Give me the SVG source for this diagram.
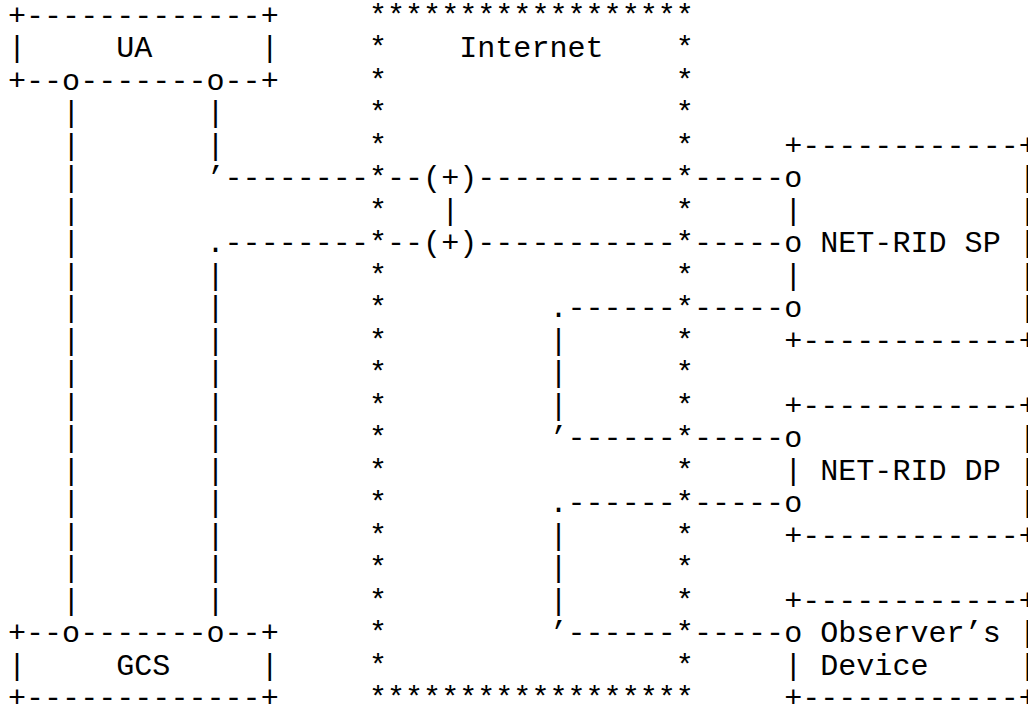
<svg xmlns="http://www.w3.org/2000/svg" width="1028" height="710" viewBox="0 0 1028 710" xml:space="preserve">
<style>
.t{font-family:"Liberation Mono","DejaVu Sans Mono",monospace;font-size:30.08px;fill:#000;white-space:pre}
</style>
<rect x="0" y="0" width="1028" height="710" fill="#fff"/>
<g id="ua">
<text class="t" x="7.98" y="24.8">+-------------+</text>
<text class="t" x="7.98" y="57.3">|     UA      |</text>
<text class="t" x="7.98" y="89.8">+--o-------o--+</text>
</g>
<g id="gcs">
<text class="t" x="7.98" y="642.3">+--o-------o--+</text>
<text class="t" x="7.98" y="674.8">|     GCS     |</text>
<text class="t" x="7.98" y="707.3">+-------------+</text>
</g>
<g id="internet">
<text class="t" x="368.98" y="24.8">******************</text>
<text class="t" x="368.98" y="57.3">*    Internet    *</text>
<text class="t" x="368.98 368.98 368.98 368.98 368.98 368.98 368.98 368.98 368.98 368.98 368.98 368.98 368.98 368.98 368.98 368.98 368.98 368.98 368.98" y="89.8 122.3 154.8 187.3 219.8 252.3 284.8 317.3 349.8 382.3 414.8 447.3 479.8 512.3 544.8 577.3 609.8 642.3 674.8">*******************</text>
<text class="t" x="675.83 675.83 675.83 675.83 675.83 675.83 675.83 675.83 675.83 675.83 675.83 675.83 675.83 675.83 675.83 675.83 675.83 675.83 675.83" y="89.8 122.3 154.8 187.3 219.8 252.3 284.8 317.3 349.8 382.3 414.8 447.3 479.8 512.3 544.8 577.3 609.8 642.3 674.8">*******************</text>
<text class="t" x="368.98" y="707.3">******************</text>
</g>
<g id="netrid-sp">
<text class="t" x="784.13" y="154.8">+------------+</text>
<text class="t" x="784.13" y="187.3">o            |</text>
<text class="t" x="784.13" y="219.8">|            |</text>
<text class="t" x="784.13" y="252.3">o NET-RID SP |</text>
<text class="t" x="784.13" y="284.8">|            |</text>
<text class="t" x="784.13" y="317.3">o            |</text>
<text class="t" x="784.13" y="349.8">+------------+</text>
</g>
<g id="netrid-dp">
<text class="t" x="784.13" y="414.8">+------------+</text>
<text class="t" x="784.13" y="447.3">o            |</text>
<text class="t" x="784.13" y="479.8">| NET-RID DP |</text>
<text class="t" x="784.13" y="512.3">o            |</text>
<text class="t" x="784.13" y="544.8">+------------+</text>
</g>
<g id="observer-device">
<text class="t" x="784.13" y="609.8">+------------+</text>
<text class="t" x="784.13" y="642.3">o Observer’s |</text>
<text class="t" x="784.13" y="674.8">| Device     |</text>
<text class="t" x="784.13" y="707.3">+------------+</text>
</g>
<g id="connectors">
<text class="t" x="62.13 62.13 62.13 62.13 62.13 62.13 62.13 62.13 62.13 62.13 62.13 62.13 62.13 62.13 62.13 62.13" y="122.3 154.8 187.3 219.8 252.3 284.8 317.3 349.8 382.3 414.8 447.3 479.8 512.3 544.8 577.3 609.8">||||||||||||||||</text>
<text class="t" x="206.53 206.53" y="122.3 154.8">||</text>
<text class="t" x="206.53 206.53 206.53 206.53 206.53 206.53 206.53 206.53 206.53 206.53 206.53" y="284.8 317.3 349.8 382.3 414.8 447.3 479.8 512.3 544.8 577.3 609.8">|||||||||||</text>
<text class="t" x="206.53" y="187.3">’--------</text>
<text class="t" x="387.03" y="187.3">--(+)-----------</text>
<text class="t" x="693.88" y="187.3">-----</text>
<text class="t" x="441.18" y="219.8">|</text>
<text class="t" x="206.53" y="252.3">.--------</text>
<text class="t" x="387.03" y="252.3">--(+)-----------</text>
<text class="t" x="693.88" y="252.3">-----</text>
<text class="t" x="549.48" y="317.3">.------</text>
<text class="t" x="693.88" y="317.3">-----</text>
<text class="t" x="549.48 549.48 549.48" y="349.8 382.3 414.8">|||</text>
<text class="t" x="549.48" y="447.3">’------</text>
<text class="t" x="693.88" y="447.3">-----</text>
<text class="t" x="549.48" y="512.3">.------</text>
<text class="t" x="693.88" y="512.3">-----</text>
<text class="t" x="549.48 549.48 549.48" y="544.8 577.3 609.8">|||</text>
<text class="t" x="549.48" y="642.3">’------</text>
<text class="t" x="693.88" y="642.3">-----</text>
</g>
</svg>
